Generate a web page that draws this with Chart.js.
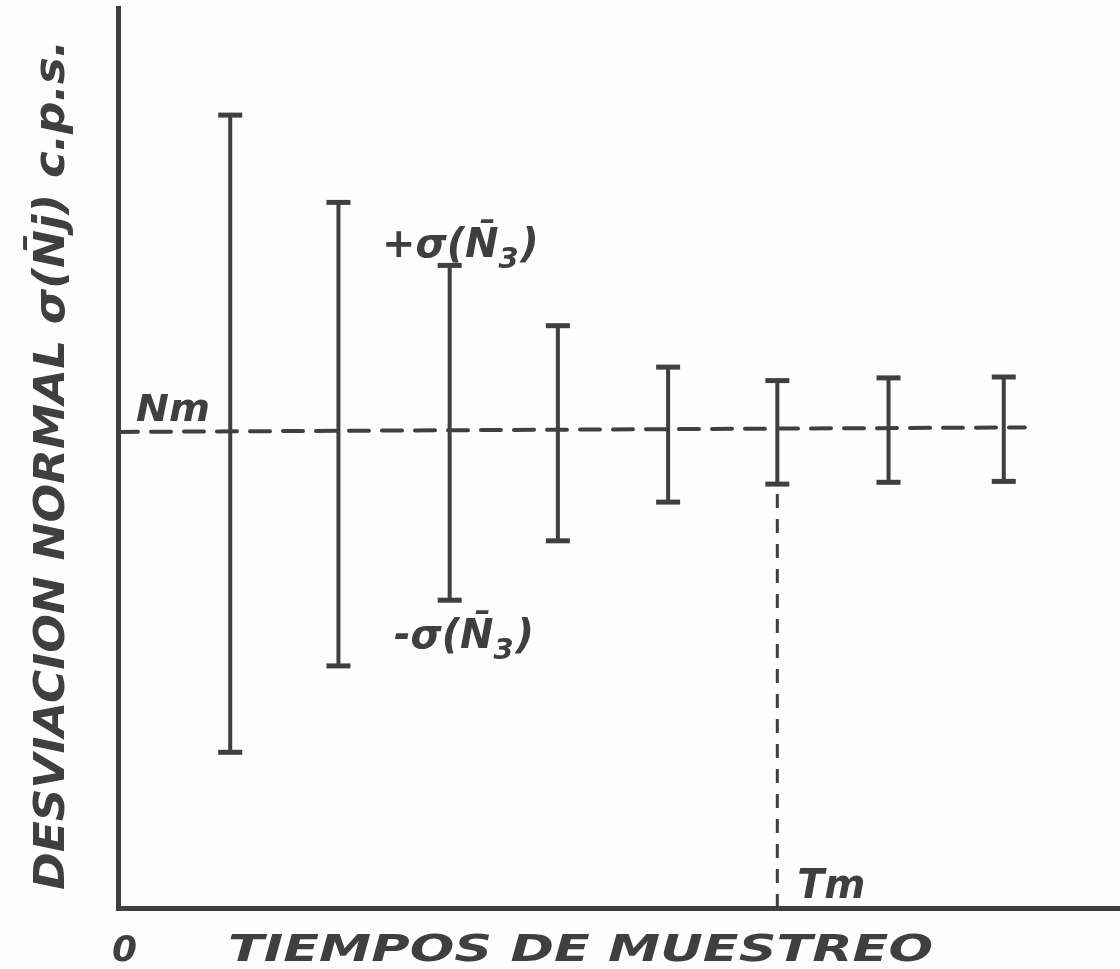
<!DOCTYPE html>
<html>
<head>
<meta charset="utf-8">
<script src="https://cdn.jsdelivr.net/npm/chart.js@4/dist/chart.umd.min.js"></script>
<style>
  html, body { margin: 0; padding: 0; background: #fdfdfd; }
  #wrap { width: 1120px; height: 969px; }
</style>
</head>
<body>
<div id="wrap"><canvas id="chart" width="1120" height="969"></canvas></div>
<script>
// --- datos (unidades arbitrarias del eje) ---
const sampleTimes = [1.12, 2.20, 3.31, 4.39, 5.49, 6.58, 7.69, 8.84];
const upperSigma  = [8.81, 7.84, 7.14, 6.47, 6.01, 5.86, 5.89, 5.90];
const lowerSigma  = [1.73, 2.69, 3.42, 4.08, 4.51, 4.71, 4.73, 4.74];
const nmLineX     = [0, 9.05];
const nmLineY     = [5.29, 5.34];
const tmIndex     = 5; // la barra donde cae Tm
const xRange      = [0, 10];
const yRange      = [0, 10];

const INK = '#3f3f3f';
const FONT = '"DejaVu Sans", "Liberation Sans", sans-serif';

// barras de error: una linea por muestra, con topes horizontales
const barSets = sampleTimes.map((t, i) => ({
  type: 'line',
  data: [{ x: t, y: lowerSigma[i] }, { x: t, y: upperSigma[i] }],
  borderColor: INK,
  borderWidth: 4,
  pointStyle: 'line',
  pointRadius: 12,
  pointBorderWidth: 5,
  pointBorderColor: INK,
  pointHoverRadius: 12,
  clip: false
}));

const nmSet = {
  type: 'line',
  data: nmLineX.map((x, i) => ({ x, y: nmLineY[i] })),
  borderColor: INK,
  borderWidth: 4,
  borderDash: [20, 13],
  borderCapStyle: 'round',
  pointRadius: 0
};

const tmSet = {
  type: 'line',
  data: [{ x: sampleTimes[tmIndex], y: 0 }, { x: sampleTimes[tmIndex], y: lowerSigma[tmIndex] }],
  borderColor: INK,
  borderWidth: 3,
  borderDash: [14, 11],
  pointRadius: 0
};

// texto "a mano": escala horizontal para ajustar al ancho dibujado
function fitText(ctx, txt, x, y, width) {
  const w = ctx.measureText(txt).width;
  ctx.save();
  ctx.translate(x, y);
  ctx.scale(width / w, 1);
  ctx.fillText(txt, 0, 0);
  ctx.restore();
}

// sigma(N3) con subindice
function sigmaLabel(ctx, sign, x, y, size) {
  ctx.font = `bold italic ${size}px ${FONT}`;
  ctx.textAlign = 'left';
  ctx.textBaseline = 'alphabetic';
  const head = sign + 'σ(N̄';
  ctx.fillText(head, x, y);
  let cx = x + ctx.measureText(head).width;
  ctx.font = `bold italic ${Math.round(size * 0.72)}px ${FONT}`;
  ctx.fillText('3', cx, y + size * 0.28);
  cx += ctx.measureText('3').width + 2;
  ctx.font = `bold italic ${size}px ${FONT}`;
  ctx.fillText(')', cx, y);
}

const handLabels = {
  id: 'handLabels',
  afterDraw(chart) {
    const { ctx, scales: { x, y } } = chart;
    ctx.save();
    ctx.fillStyle = INK;

    // titulo eje y (vertical)
    ctx.save();
    ctx.translate(64, 465);
    ctx.rotate(-Math.PI / 2);
    ctx.font = `bold italic 42px ${FONT}`;
    ctx.textAlign = 'left';
    ctx.textBaseline = 'alphabetic';
    fitText(ctx, 'DESVIACION NORMAL σ(N̄j) c.p.s.', -425, 0, 850);
    ctx.restore();

    // titulo eje x
    ctx.font = `bold italic 38px ${FONT}`;
    ctx.textAlign = 'left';
    ctx.textBaseline = 'alphabetic';
    fitText(ctx, 'TIEMPOS DE MUESTREO', 228, 961, 705);

    // origen
    ctx.font = `bold italic 36px ${FONT}`;
    ctx.fillText('0', x.getPixelForValue(0) - 6, 961);

    // Nm
    ctx.font = `bold italic 38px ${FONT}`;
    fitText(ctx, 'Nm', x.getPixelForValue(0) + 18, y.getPixelForValue(nmLineY[0]) - 11, 74);

    // Tm
    ctx.font = `bold italic 40px ${FONT}`;
    fitText(ctx, 'Tm', x.getPixelForValue(sampleTimes[tmIndex]) + 20, y.getPixelForValue(0) - 10, 68);

    // +/- sigma(N3)
    sigmaLabel(ctx, '+', 382, 257, 40);
    sigmaLabel(ctx, '-', 394, 648, 40);

    ctx.restore();
  }
};

new Chart(document.getElementById('chart'), {
  type: 'line',
  data: { datasets: [nmSet, tmSet, ...barSets] },
  options: {
    responsive: false,
    animation: false,
    devicePixelRatio: 1,
    layout: { autoPadding: false, padding: { top: 8, right: 0, left: 0, bottom: 0 } },
    plugins: { legend: { display: false }, tooltip: { enabled: false } },
    scales: {
      x: {
        type: 'linear',
        min: xRange[0],
        max: xRange[1],
        ticks: { display: false },
        grid: { display: false },
        border: { display: true, color: INK, width: 5 },
        afterFit: (s) => { s.height = 61; }
      },
      y: {
        type: 'linear',
        min: yRange[0],
        max: yRange[1],
        ticks: { display: false },
        grid: { display: false },
        border: { display: true, color: INK, width: 5 },
        afterFit: (s) => { s.width = 118; }
      }
    }
  },
  plugins: [handLabels]
});
</script>
</body>
</html>
